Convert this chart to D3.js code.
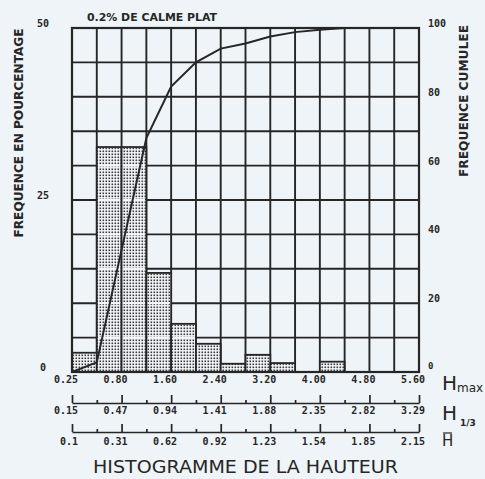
<!DOCTYPE html>
<html>
<head>
<meta charset="utf-8">
<script src="https://cdn.jsdelivr.net/npm/d3@7/dist/d3.min.js"></script>
<style>
  html, body { margin: 0; padding: 0; background: #eef4f7; }
  svg { display: block; }
</style>
</head>
<body>
<svg id="chart" width="485" height="479"></svg>
<script>
// Height classes (one per histogram column)
const classIndex = d3.range(14);
// Frequency of each class, in percent
const frequency = [2.8, 32.7, 32.7, 14.4, 7.0, 4.1, 1.2, 2.5, 1.3, 0, 1.5, 0, 0, 0];
// Cumulative frequency at each class boundary, in percent
const cumulative = [0, 2.8, 35.5, 68, 83, 90, 94, 95.5, 97.5, 98.8, 99.5, 100, 100, 100, 100];
// Boundary labels for the three height scales
const hmaxLabels = ["0.25", "0.80", "1.60", "2.40", "3.20", "4.00", "4.80", "5.60"];
const h13Labels = ["0.15", "0.47", "0.94", "1.41", "1.88", "2.35", "2.82", "3.29"];
const hMeanLabels = ["0.1", "0.31", "0.62", "0.92", "1.23", "1.54", "1.85", "2.15"];
const leftTicks = [0, 25, 50];
const rightTicks = [0, 20, 40, 60, 80, 100];

const ink = "#262626";
const paper = "#eef4f7";
const svg = d3.select("#chart");

const x = d3.scaleLinear().domain([0, 14]).range([72, 419]);
const yL = d3.scaleLinear().domain([0, 50]).range([372, 28]);
const yR = d3.scaleLinear().domain([0, 100]).range([372, 28]);

// Dotted fill for the bars
const defs = svg.append("defs");
const pat = defs.append("pattern")
  .attr("id", "dots").attr("patternUnits", "userSpaceOnUse")
  .attr("width", 3).attr("height", 3);
pat.append("rect").attr("width", 3).attr("height", 3).attr("fill", "#f3f7f9");
pat.append("rect").attr("x", 0.5).attr("y", 0.5).attr("width", 1.6).attr("height", 1.6).attr("fill", "#3a3a3a");

// Grid
const grid = svg.append("g").attr("stroke", ink).attr("stroke-width", 1.9);
grid.selectAll("line.v").data(d3.range(15)).join("line")
  .attr("x1", d => x(d)).attr("x2", d => x(d))
  .attr("y1", yL(50)).attr("y2", yL(0));
grid.selectAll("line.h").data(d3.range(0, 51, 5)).join("line")
  .attr("x1", x(0)).attr("x2", x(14))
  .attr("y1", d => yL(d)).attr("y2", d => yL(d));

// Histogram bars
const bars = svg.append("g");
bars.selectAll("rect").data(classIndex.filter(i => frequency[i] > 0)).join("rect")
  .attr("x", i => x(i)).attr("width", i => x(i + 1) - x(i))
  .attr("y", i => yL(frequency[i])).attr("height", i => yL(0) - yL(frequency[i]))
  .attr("fill", "url(#dots)")
  .attr("stroke", ink).attr("stroke-width", 1.8);
// Light bands where the grid crosses the dotted fill
classIndex.filter(i => frequency[i] > 0).forEach(i => {
  d3.range(5, 51, 5).filter(v => v < frequency[i]).forEach(v => {
    bars.append("line")
      .attr("x1", x(i) + 1.5).attr("x2", x(i + 1) - 1.5)
      .attr("y1", yL(v)).attr("y2", yL(v))
      .attr("stroke", "#f3f7f9").attr("stroke-width", 2);
  });
});

// Plot frame
svg.append("rect")
  .attr("x", x(0)).attr("y", yL(50))
  .attr("width", x(14) - x(0)).attr("height", yL(0) - yL(50))
  .attr("fill", "none").attr("stroke", ink).attr("stroke-width", 2.2);

// Cumulative curve
const line = d3.line().x((d, i) => x(i)).y(d => yR(d));
svg.append("path").datum(cumulative)
  .attr("d", line).attr("fill", "none")
  .attr("stroke", ink).attr("stroke-width", 2);

// Left and right value labels
const tickFont = "'DejaVu Sans Mono', monospace";
svg.append("g").selectAll("text").data(leftTicks).join("text")
  .attr("x", 43).attr("y", d => yL(d) - 1)
  .attr("text-anchor", "middle")
  .attr("font-family", tickFont).attr("font-weight", "bold").attr("font-size", 10)
  .attr("fill", ink).text(d => d);
svg.append("g").selectAll("text").data(rightTicks).join("text")
  .attr("x", 428).attr("y", d => yR(d) - (d === 0 ? 3 : 1))
  .attr("font-family", tickFont).attr("font-weight", "bold")
  .attr("font-size", d => d === 0 ? 9 : 10)
  .attr("fill", ink).text(d => d);

// Axis titles
const labelFont = "'DejaVu Sans Condensed', 'DejaVu Sans', sans-serif";
svg.append("text")
  .attr("transform", "translate(23,133) rotate(-90)")
  .attr("text-anchor", "middle")
  .attr("font-family", labelFont).attr("font-weight", "bold").attr("font-size", 13)
  .attr("textLength", 209).attr("lengthAdjust", "spacingAndGlyphs")
  .attr("fill", ink).text("FREQUENCE EN POURCENTAGE");
svg.append("text")
  .attr("transform", "translate(468,101) rotate(-90)")
  .attr("text-anchor", "middle")
  .attr("font-family", labelFont).attr("font-weight", "bold").attr("font-size", 13)
  .attr("textLength", 152).attr("lengthAdjust", "spacingAndGlyphs")
  .attr("fill", ink).text("FREQUENCE CUMULEE");
svg.append("text")
  .attr("x", 87).attr("y", 21)
  .attr("font-family", labelFont).attr("font-weight", "bold").attr("font-size", 11)
  .attr("textLength", 130).attr("lengthAdjust", "spacingAndGlyphs")
  .attr("fill", ink).text("0.2% DE CALME PLAT");

// Boundary scales under the histogram
const majorAt = d3.range(0, 15, 2);
const minorAt = d3.range(1, 14, 2);
function scaleRow(lineY, labels, labelY) {
  if (lineY !== null) {
    const g = svg.append("g").attr("transform", `translate(0,${lineY})`);
    g.call(d3.axisTop(x).tickValues(majorAt).tickSize(8).tickSizeOuter(0).tickFormat(""));
    const gm = svg.append("g").attr("transform", `translate(0,${lineY})`);
    gm.call(d3.axisTop(x).tickValues(minorAt).tickSize(3).tickSizeOuter(0).tickFormat(""));
    gm.select(".domain").remove();
    svg.selectAll(".domain, .tick line").attr("stroke", ink).attr("stroke-width", 1.7);
  }
  svg.append("g").selectAll("text").data(labels).join("text")
    .attr("x", (d, i) => x(majorAt[i]) + 6).attr("y", labelY)
    .attr("text-anchor", "end")
    .attr("font-family", tickFont).attr("font-weight", "bold").attr("font-size", 10)
    .attr("fill", ink).text(d => d);
}
scaleRow(null, hmaxLabels, 383);
scaleRow(403, h13Labels, 414);
scaleRow(432, hMeanLabels, 445);

// Scale names
const symFont = "'DejaVu Sans', sans-serif";
const hmax = svg.append("text").attr("x", 442).attr("y", 390)
  .attr("font-family", symFont).attr("font-size", 20).attr("fill", ink);
hmax.append("tspan").text("H");
hmax.append("tspan").attr("font-size", 12).attr("dy", 2).text("max");
const h13 = svg.append("text").attr("x", 442).attr("y", 420)
  .attr("font-family", symFont).attr("font-size", 20).attr("fill", ink);
h13.append("tspan").text("H");
h13.append("tspan").attr("font-size", 9).attr("font-weight", "bold").attr("dx", 3).attr("dy", 6).text("1/3");
svg.append("text").attr("x", 442).attr("y", 446)
  .attr("font-family", symFont).attr("font-size", 15).attr("fill", ink).text("H");
svg.append("line").attr("x1", 443).attr("x2", 452).attr("y1", 433).attr("y2", 433)
  .attr("stroke", ink).attr("stroke-width", 1.2);

// Chart title
svg.append("text")
  .attr("x", 93).attr("y", 473)
  .attr("font-family", symFont).attr("font-size", 18)
  .attr("textLength", 305).attr("lengthAdjust", "spacingAndGlyphs")
  .attr("fill", ink).text("HISTOGRAMME DE LA HAUTEUR");
</script>
</body>
</html>
